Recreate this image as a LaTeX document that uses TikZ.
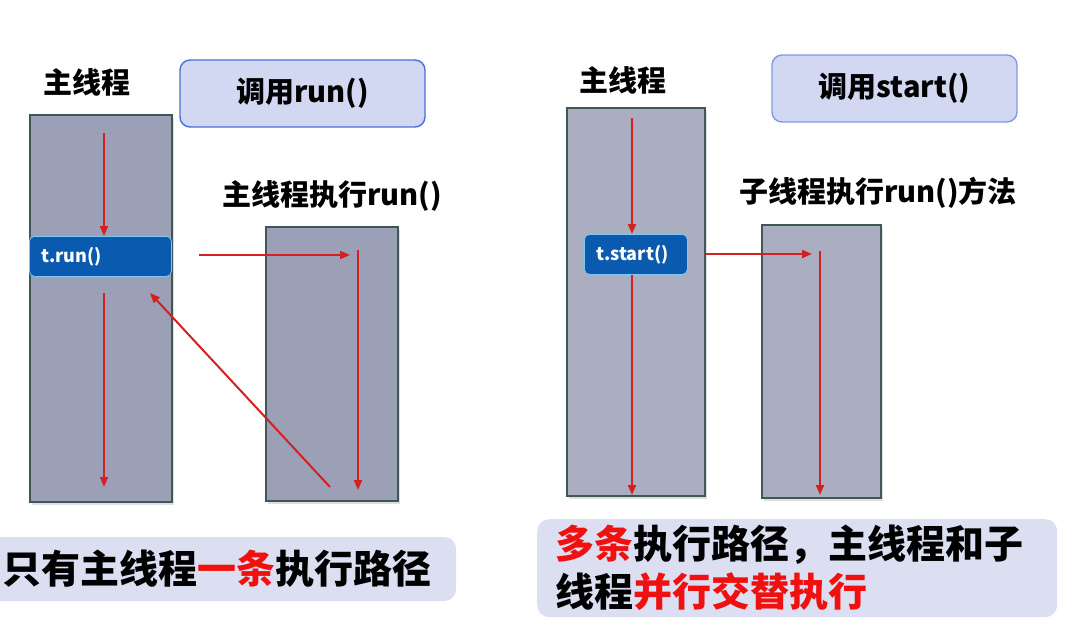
\documentclass[tikz,border=0pt]{standalone}
\usepackage{fontspec}
\setmainfont{Noto Sans CJK SC}
\usetikzlibrary{arrows.meta,positioning,shadows}

\definecolor{barfill}{HTML}{9CA0B6}
\definecolor{barline}{HTML}{3F5757}
\definecolor{callfill}{HTML}{0A5AB0}
\definecolor{callline}{HTML}{7FC8F0}
\definecolor{tagfill}{HTML}{D3D8F2}
\definecolor{tagline}{HTML}{4A6FD6}
\definecolor{notefill}{HTML}{DCDFF2}
\definecolor{arrowred}{HTML}{D42020}
\definecolor{hotred}{HTML}{F01010}

\begin{document}
\begin{tikzpicture}[x=1pt, y=-1pt,
    every node/.style={font=\bfseries},
    flow/.style={draw=arrowred, line width=2pt, -{Triangle[length=10pt,width=8pt]}},
    barbox/.style={draw=barline, line width=1.8pt, fill=barfill, anchor=north west, inner sep=0pt,
        drop shadow={opacity=0.25, shadow xshift=2pt, shadow yshift=-3pt}},
    callbox/.style={draw=callline, line width=0.8pt, fill=callfill, rounded corners=5pt, text=white,
        anchor=north west, align=left, minimum height=40pt, inner xsep=12pt,
        font=\bfseries\fontsize{18}{21}\selectfont},
    tagbox/.style={draw=tagline, line width=1.4pt, fill=tagfill, rounded corners=10pt,
        minimum width=245pt, minimum height=67pt, font=\bfseries\fontsize{29}{32}\selectfont},
    headlbl/.style={font=\bfseries\fontsize{29}{32}\selectfont},
    notebox/.style={fill=notefill, rounded corners=12pt, align=left, inner xsep=14pt,
        font=\bfseries\fontsize{39}{48}\selectfont}
]
\useasboundingbox (0,0) rectangle (1080,635);

% left: run()
\node[headlbl] (lmainlbl) at (87,82) {主线程};
\node[tagbox] (runtag) at (302.5,93.5) {调用run()};
\node[barbox, minimum width=142pt, minimum height=387pt] (runmain) at (29,114) {};
\node[barbox, minimum width=132pt, minimum height=274pt] (runbody) at (265,226) {};
\node[headlbl] (runbodylbl) at (332,196) {主线程执行run()};
\node[callbox, text width=118pt, minimum width=142pt] (trun) at (29,236) {t.run()};

\coordinate (r1) at (104,133);
\coordinate (r2) at (104,293);
\coordinate (r3) at (104,487);
\coordinate (r4) at (199,255);
\coordinate (r5) at (350,255);
\coordinate (r6) at (358,250);
\coordinate (r7) at (358,490);
\coordinate (r8) at (330,487);
\coordinate (r9) at (150,293);
\draw[flow] (r1) -- (r1 |- trun.north);
\draw[flow] (r2) -- (r3);
\draw[flow] (r4) -- (r5);
\draw[flow] (r6) -- (r7);
\draw[flow] (r8) -- (r9);

\node[notebox, anchor=west, text width=440pt, minimum height=64pt] (onepath) at (-12,569)
    {只有主线程\textcolor{hotred}{一条}执行路径};

% right: start()
\node[headlbl] (rmainlbl) at (623,80) {主线程};
\node[tagbox, draw=tagline!70] (starttag) at (894.5,88.5) {调用start()};
\node[barbox, fill=barfill!85!white, minimum width=138pt, minimum height=388pt] (startmain) at (566,107) {};
\node[barbox, fill=barfill!85!white, minimum width=119pt, minimum height=273pt] (startbody) at (761,224) {};
\node[headlbl] (startbodylbl) at (878,193) {子线程执行run()方法};
\node[callbox, text width=79pt, minimum width=103pt] (tstart) at (584,234) {t.start()};

\coordinate (s1) at (632,118);
\coordinate (s2) at (632,495);
\coordinate (s3) at (705,254);
\coordinate (s4) at (812,254);
\coordinate (s5) at (820,251);
\coordinate (s6) at (820,495);
\draw[flow] (s1) -- (s1 |- tstart.north);
\draw[flow] (s1 |- tstart.south) -- (s2);
\draw[flow] (s3) -- (s4);
\draw[flow] (s5) -- (s6);

\node[notebox, anchor=north west, text width=484pt, minimum height=98pt, inner xsep=18pt] (twopath) at (537,519)
    {\textcolor{hotred}{多条}执行路径，主线程和子\\线程\textcolor{hotred}{并行交替执行}};
\end{tikzpicture}
\end{document}
